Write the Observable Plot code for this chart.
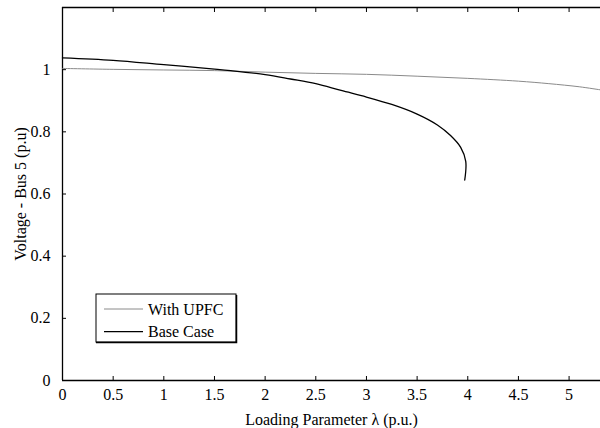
<!DOCTYPE html>
<html>
<head>
<meta charset="utf-8">
<script src="https://cdn.jsdelivr.net/npm/d3@7"></script>
<script src="https://cdn.jsdelivr.net/npm/@observablehq/plot@0.6"></script>
<style>
  html, body { margin: 0; padding: 0; background: white; }
  #chart { width: 600px; height: 428px; }
</style>
</head>
<body>
<div id="chart"></div>
<script>
// Base case (folds back at the nose point)
const baseLambda = [0, 0.5, 1.0, 1.5, 1.66, 2.0, 2.25, 2.5, 2.75, 3.0, 3.25, 3.5, 3.7, 3.83, 3.93, 3.98, 3.97];
const baseV      = [1.038, 1.030, 1.016, 1.002, 0.997, 0.984, 0.970, 0.955, 0.933, 0.912, 0.888, 0.857, 0.822, 0.788, 0.750, 0.705, 0.645];
// With UPFC
const upfcLambda = [0, 0.5, 1.0, 1.5, 2.0, 2.5, 3.0, 3.5, 4.0, 4.5, 4.8, 5.1, 5.31];
const upfcV      = [1.004, 1.001, 0.999, 0.997, 0.992, 0.988, 0.985, 0.979, 0.972, 0.963, 0.955, 0.945, 0.935];

const xTicks = [0, 0.5, 1, 1.5, 2, 2.5, 3, 3.5, 4, 4.5, 5];
const yTicks = [0, 0.2, 0.4, 0.6, 0.8, 1];
const seriesNames = ["With UPFC", "Base Case"];

const base = baseLambda.map((l, i) => ({l, v: baseV[i]}));
const upfc = upfcLambda.map((l, i) => ({l, v: upfcV[i]}));

const FONT = "Times New Roman, Times, serif";

const chart = Plot.plot({
  width: 600,
  height: 428,
  marginLeft: 62,
  marginRight: 0,
  marginTop: 7,
  marginBottom: 48,
  style: {fontSize: "16px", background: "white", color: "black", fontFamily: FONT},
  x: {domain: [0, 5.31]},
  y: {domain: [0, 1.2]},
  marks: [
    Plot.ruleY([0, 1.2], {stroke: "black", strokeWidth: 1.3}),
    Plot.ruleX([0], {stroke: "black", strokeWidth: 1.3}),
    // inward tick marks
    Plot.axisX({ticks: xTicks, tickSize: 4, dy: -4, tickFormat: () => "", label: null}),
    Plot.axisX({anchor: "top", ticks: xTicks, tickSize: 4, dy: 4, tickFormat: () => "", label: null}),
    Plot.axisY({ticks: yTicks, tickSize: 4, dx: 4, tickFormat: () => "", label: null}),
    // tick labels and axis titles
    Plot.axisX({ticks: xTicks, tickSize: 0, tickPadding: 8, tickFormat: d => String(d),
      label: "Loading Parameter λ (p.u.)", labelAnchor: "center", labelArrow: false, labelOffset: 44}),
    Plot.axisY({ticks: yTicks, tickSize: 0, tickPadding: 12, tickFormat: d => String(d),
      label: "Voltage - Bus 5 (p.u)", labelAnchor: "center", labelArrow: false, labelOffset: 48}),
    Plot.line(upfc, {x: "l", y: "v", stroke: "#8a8a8a", strokeWidth: 1, curve: "catmull-rom"}),
    Plot.line(base, {x: "l", y: "v", stroke: "black", strokeWidth: 1.3, curve: "catmull-rom"})
  ]
});

// Legend (MATLAB-style box)
const svg = d3.select(chart);
const lg = svg.append("g").attr("font-family", FONT).attr("font-size", 16).attr("text-anchor", "start");
lg.append("rect").attr("x", 96).attr("y", 294).attr("width", 140).attr("height", 48)
  .attr("fill", "white").attr("stroke", "black").attr("stroke-width", 1);
lg.append("path").attr("d", "M236.5,295V342.5H96").attr("fill", "none").attr("stroke", "black").attr("stroke-width", 1.5);
const legendColors = ["#8a8a8a", "black"];
const legendWidths = [1, 1.3];
seriesNames.forEach((name, i) => {
  const y = 309 + i * 22.7;
  lg.append("line").attr("x1", 104).attr("x2", 143).attr("y1", y).attr("y2", y)
    .attr("stroke", legendColors[i]).attr("stroke-width", legendWidths[i]);
  lg.append("text").attr("x", 148).attr("y", y).attr("dy", "0.35em").attr("fill", "black").text(name);
});

document.getElementById("chart").appendChild(chart);
</script>
</body>
</html>
